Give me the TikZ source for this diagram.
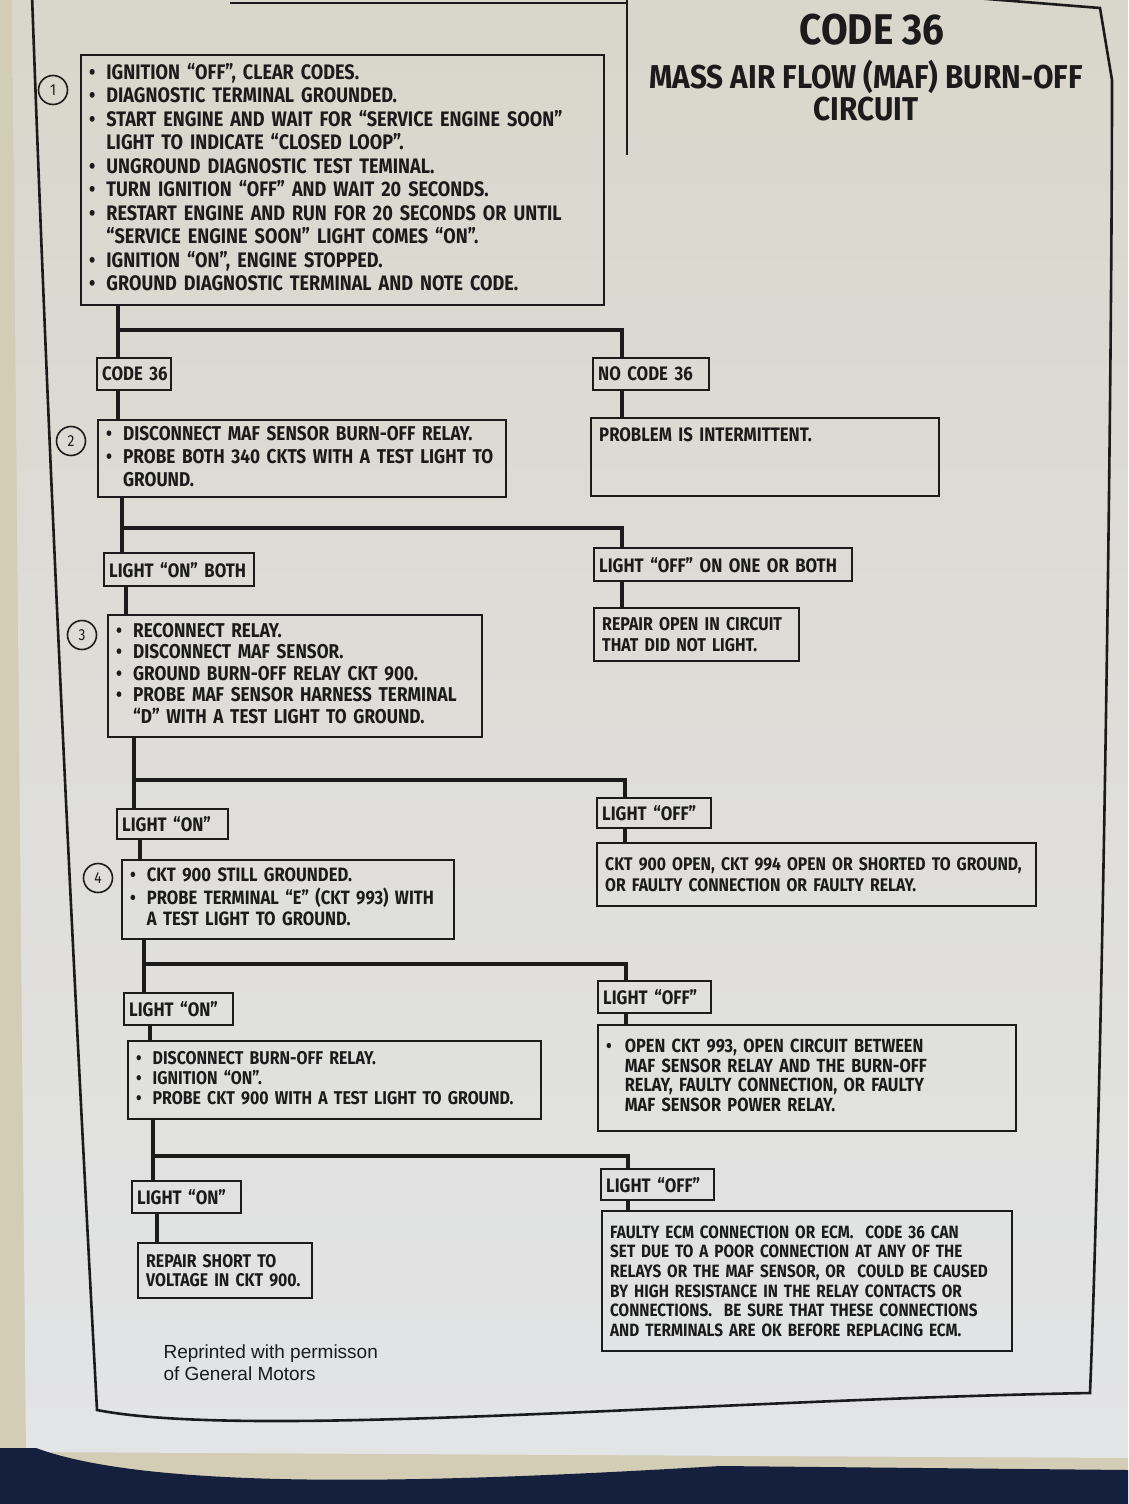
\documentclass[tikz,border=0pt]{standalone}
\usepackage{fontspec}
\newfontfamily\chartfont{Fira Sans}[FakeStretch=0.86]
\newfontfamily\headfont{Fira Sans}[FakeStretch=0.9]
\newfontfamily\notefont{Liberation Sans}
\newcommand\cf[2]{\chartfont\bfseries\fontsize{#1}{#2}\selectfont}
\definecolor{paper}{HTML}{DFDFDD}
\definecolor{papertop}{HTML}{D9D6CB}
\definecolor{paperbot}{HTML}{E3E4E6}
\definecolor{wall}{HTML}{D3CDB6}
\definecolor{navy}{HTML}{14203E}
\definecolor{ink}{HTML}{1B1B1B}
\tikzset{
  stepbox/.style={draw=ink, line width=2.4pt, anchor=north west, inner xsep=8pt, inner ysep=3pt, align=left, text=ink, font=\cf{21}{23.5}},
  tagbox/.style={draw=ink, line width=2.4pt, anchor=north west, inner xsep=5pt, inner ysep=3pt, align=left, text=ink, font=\cf{19.5}{22}},
  stepno/.style={circle, draw=ink, line width=1.6pt, minimum size=29pt, inner sep=0pt, text=ink, font=\chartfont\fontsize{16}{18}\selectfont},
  link/.style={draw=ink, line width=4.5pt},
  frame/.style={draw=ink, line width=2.6pt}
}
\begin{document}
\begin{tikzpicture}[x=1pt,y=-1pt]
\useasboundingbox (0,0) rectangle (1128,1504);
% page and background
\fill[wall] (0,0) rectangle (1128,1504);
\shade[top color=papertop, bottom color=paperbot] (12,0) -- (1128,0) -- (1128,1458) -- (26,1452) -- cycle;
\fill[navy] (36,1448) .. controls (150,1490) and (420,1484) .. (720,1466) -- (1128,1470) -- (1128,1504) -- (0,1504) -- (0,1448) -- cycle;

% outer frame
\begin{scope}
\clip (0,0) rectangle (1128,1504);
\draw[frame] (32,-5) .. controls (50,500) and (75,1000) .. (97,1410) .. controls (250,1440) and (700,1400) .. (1090,1393) .. controls (1102,1100) and (1112,400) .. (1112,80) -- (1100,8) -- (625,-30);
\draw[frame] (627,-5) -- (627,155);
\draw[frame] (230,3) -- (627,3);
\end{scope}

% title
\node[text=ink, font=\headfont\bfseries\fontsize{43}{46}\selectfont] (title) at (872,30) {CODE 36};
\node[text=ink, align=center, font=\headfont\bfseries\fontsize{33}{32}\selectfont] (subtitle) at (866,91) {MASS AIR FLOW (MAF) BURN-OFF\\CIRCUIT};

% step 1
\node[stepbox, text width=507pt, minimum height=250pt] (b1) at (80,54) {%
\begin{tabular}{@{}l@{\hspace{11pt}}l@{}}
\textbullet & IGNITION “OFF”, CLEAR CODES.\\
\textbullet & DIAGNOSTIC TERMINAL GROUNDED.\\
\textbullet & START ENGINE AND WAIT FOR “SERVICE ENGINE SOON”\\
 & LIGHT TO INDICATE “CLOSED LOOP”.\\
\textbullet & UNGROUND DIAGNOSTIC TEST TEMINAL.\\
\textbullet & TURN IGNITION “OFF” AND WAIT 20 SECONDS.\\
\textbullet & RESTART ENGINE AND RUN FOR 20 SECONDS OR UNTIL\\
 & “SERVICE ENGINE SOON” LIGHT COMES “ON”.\\
\textbullet & IGNITION “ON”, ENGINE STOPPED.\\
\textbullet & GROUND DIAGNOSTIC TERMINAL AND NOTE CODE.
\end{tabular}};
\node[stepno] (n1) at (53,90) {1};

\node[tagbox, text width=64pt, minimum height=32pt] (c36) at (96,357) {\mbox{CODE 36}};
\node[tagbox, text width=106pt, minimum height=32pt] (nc36) at (592,357) {NO CODE 36};

% step 2
\node[stepbox, text width=392pt, minimum height=77pt, font=\cf{20}{23}] (b2) at (97,419) {%
\begin{tabular}{@{}l@{\hspace{11pt}}l@{}}
\textbullet & DISCONNECT MAF SENSOR BURN-OFF RELAY.\\
\textbullet & PROBE BOTH 340 CKTS WITH A TEST LIGHT TO\\
 & GROUND.
\end{tabular}};
\node[stepno] (n2) at (71,441) {2};
\node[stepbox, text width=332pt, minimum height=78pt, font=\cf{19.5}{23}] (prob) at (590,417) {PROBLEM IS INTERMITTENT.\\~\\~};

\node[tagbox, text width=140pt, minimum height=33pt] (lonboth) at (103,552) {LIGHT “ON” BOTH};
\node[tagbox, text width=248pt, minimum height=33pt] (loffone) at (593,547) {LIGHT “OFF” ON ONE OR BOTH};
\node[stepbox, text width=189pt, minimum height=53pt, font=\cf{18.5}{21}] (ropen) at (593,607) {REPAIR OPEN IN CIRCUIT\\THAT DID NOT LIGHT.};

% step 3
\node[stepbox, text width=358pt, minimum height=122pt, font=\cf{20}{21.5}] (b3) at (107,614) {%
\begin{tabular}{@{}l@{\hspace{11pt}}l@{}}
\textbullet & RECONNECT RELAY.\\
\textbullet & DISCONNECT MAF SENSOR.\\
\textbullet & GROUND BURN-OFF RELAY CKT 900.\\
\textbullet & PROBE MAF SENSOR HARNESS TERMINAL\\
 & “D” WITH A TEST LIGHT TO GROUND.
\end{tabular}};
\node[stepno] (n3) at (82,635) {3};

\node[tagbox, text width=101pt, minimum height=30pt] (lon1) at (116,808) {LIGHT “ON”};
\node[tagbox, text width=104pt, minimum height=30pt] (loff1) at (596,797) {LIGHT “OFF”};
\node[stepbox, text width=423pt, minimum height=63pt, font=\cf{18.3}{21.5}] (ckt900) at (596,842) {CKT 900 OPEN, CKT 994 OPEN OR SHORTED TO GROUND,\\OR FAULTY CONNECTION OR FAULTY RELAY.};

% step 4
\node[stepbox, text width=316pt, minimum height=79pt, font=\cf{19.3}{21}] (b4) at (121,859) {%
\begin{tabular}{@{}l@{\hspace{11pt}}l@{}}
\textbullet & CKT 900 STILL GROUNDED.\\
\textbullet & PROBE TERMINAL “E” (CKT 993) WITH\\
 & A TEST LIGHT TO GROUND.
\end{tabular}};
\node[stepno] (n4) at (98,878) {4};

\node[tagbox, text width=99pt, minimum height=32pt] (lon2) at (123,992) {LIGHT “ON”};
\node[tagbox, text width=103pt, minimum height=32pt] (loff2) at (597,980) {LIGHT “OFF”};
\node[stepbox, text width=402pt, minimum height=106pt, font=\cf{19}{19.6}] (open993) at (597,1024) {%
\begin{tabular}{@{}l@{\hspace{13pt}}l@{}}
\textbullet & OPEN CKT 993, OPEN CIRCUIT BETWEEN\\
 & MAF SENSOR RELAY AND THE BURN-OFF\\
 & RELAY, FAULTY CONNECTION, OR FAULTY\\
 & MAF SENSOR POWER RELAY.
\end{tabular}};

% step 5
\node[stepbox, text width=397pt, minimum height=78pt, font=\cf{18.5}{20}] (b5) at (127,1040) {%
\begin{tabular}{@{}l@{\hspace{11pt}}l@{}}
\textbullet & DISCONNECT BURN-OFF RELAY.\\
\textbullet & IGNITION “ON”.\\
\textbullet & PROBE CKT 900 WITH A TEST LIGHT TO GROUND.
\end{tabular}};

\node[tagbox, text width=99pt, minimum height=32pt] (lon3) at (131,1180) {LIGHT “ON”};
\node[tagbox, text width=103pt, minimum height=31pt] (loff3) at (600,1168) {LIGHT “OFF”};
\node[stepbox, text width=158pt, minimum height=55pt, font=\cf{18.4}{19}] (rshort) at (137,1242) {REPAIR SHORT TO\\VOLTAGE IN CKT 900.};
\node[stepbox, text width=394pt, minimum height=140pt, font=\cf{17.8}{19.6}] (ecm) at (601,1210) {FAULTY ECM CONNECTION OR ECM.\ \ CODE 36 CAN\\SET DUE TO A POOR CONNECTION AT ANY OF THE\\RELAYS OR THE MAF SENSOR, OR\ \ COULD BE CAUSED\\BY HIGH RESISTANCE IN THE RELAY CONTACTS OR\\CONNECTIONS.\ \ BE SURE THAT THESE CONNECTIONS\\AND TERMINALS ARE OK BEFORE REPLACING ECM.};

\node[anchor=north west, align=left, text=ink, font=\notefont\fontsize{19}{22}\selectfont] (note) at (160,1341) {Reprinted with permisson\\of General Motors};

% connectors
\coordinate (s1) at (118,330);
\coordinate (r1) at (622,330);
\draw[link] (b1.south -| s1) -- (c36.north -| s1);
\draw[link] (s1) -- (r1) -- (nc36.north -| r1);
\draw[link] (c36.south -| s1) -- (b2.north -| s1);
\draw[link] (nc36.south -| r1) -- (prob.north -| r1);

\coordinate (s2) at (122,528);
\coordinate (r2) at (622,528);
\draw[link] (b2.south -| s2) -- (lonboth.north -| s2);
\draw[link] (s2) -- (r2) -- (loffone.north -| r2);
\draw[link] (lonboth.south -| s2) ++(4,0) coordinate (t2) -- (b3.north -| t2);
\draw[link] (loffone.south -| r2) -- (ropen.north -| r2);

\coordinate (s3) at (134,780);
\coordinate (r3) at (625,780);
\draw[link] (b3.south -| s3) -- (lon1.north -| s3);
\draw[link] (s3) -- (r3) -- (loff1.north -| r3);
\draw[link] (lon1.south -| s3) ++(6,0) coordinate (t3) -- (b4.north -| t3);
\draw[link] (loff1.south -| r3) -- (ckt900.north -| r3);

\coordinate (s4) at (144,964);
\coordinate (r4) at (626,964);
\draw[link] (b4.south -| s4) -- (lon2.north -| s4);
\draw[link] (s4) -- (r4) -- (loff2.north -| r4);
\draw[link] (lon2.south -| s4) ++(6,0) coordinate (t4) -- (b5.north -| t4);
\draw[link] (loff2.south -| r4) -- (open993.north -| r4);

\coordinate (s5) at (153,1156);
\coordinate (r5) at (628,1156);
\draw[link] (b5.south -| s5) -- (lon3.north -| s5);
\draw[link] (s5) -- (r5) -- (loff3.north -| r5);
\draw[link] (lon3.south -| s5) ++(4,0) coordinate (t5) -- (rshort.north -| t5);
\draw[link] (loff3.south -| r5) -- (ecm.north -| r5);
\end{tikzpicture}
\end{document}
